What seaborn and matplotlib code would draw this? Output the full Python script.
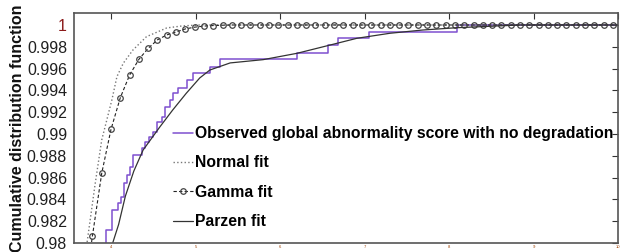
import matplotlib
matplotlib.use('Agg')
import matplotlib.pyplot as plt
import numpy as np
import pandas as pd
import seaborn as sns

# observed empirical CDF (step positions and levels after each step)
obs_x = [3.90, 3.941, 4.008, 4.079, 4.118, 4.157, 4.186, 4.225, 4.264, 4.363,
         4.402, 4.450, 4.497, 4.541, 4.600, 4.639, 4.698, 4.734, 4.793, 4.896,
         4.970, 5.172, 5.290, 6.198, 6.568, 6.686, 7.053, 8.091, 10.0]
obs_y = [0.9795, 0.98119, 0.98303, 0.98367, 0.98425, 0.98550, 0.98624, 0.98697,
         0.98807, 0.98872, 0.98929, 0.98972, 0.99021, 0.99113, 0.99156, 0.99250,
         0.99312, 0.99376, 0.99422, 0.99495, 0.99562, 0.99617, 0.99685, 0.99746,
         0.99817, 0.99878, 0.99939, 1.0, 1.0]

# normal fit
norm_x = [3.68, 3.716, 3.81, 3.89, 3.95, 4.01, 4.07, 4.145, 4.26, 4.42, 4.66,
          4.85, 5.05, 5.5, 10.0]
norm_y = [0.9780, 0.9800, 0.9853, 0.98945, 0.99128, 0.99312, 0.99526, 0.99649,
          0.99771, 0.99893, 0.99973, 0.99992, 1.0, 1.0, 1.0]

# gamma fit (marker positions)
gamma_x = [3.67, 3.78, 3.89, 4.00, 4.11, 4.22, 4.33, 4.44, 4.55, 4.66,
           4.77, 4.88, 4.99, 5.10, 5.21, 5.32, 5.43, 5.54, 5.65, 5.76,
           5.87, 5.98, 6.09, 6.20, 6.31, 6.42, 6.53, 6.64, 6.75, 6.86,
           6.97, 7.08, 7.19, 7.30, 7.41, 7.52, 7.63, 7.74, 7.85, 7.96,
           8.07, 8.18, 8.29, 8.40, 8.51, 8.62, 8.73, 8.84, 8.95, 9.06,
           9.17, 9.28, 9.39, 9.50, 9.61, 9.72, 9.83, 9.94, 10.05]
gamma_y = [0.9745, 0.98064, 0.98639, 0.99043, 0.99333, 0.99541, 0.99685,
           0.99786, 0.99864, 0.99909, 0.99936, 0.99964, 0.9998, 0.9999,
           0.99995, 0.99998] + [1.0] * 43

# parzen fit
parzen_x = [4.00, 4.02, 4.09, 4.17, 4.27, 4.38, 4.58, 4.73, 4.89, 5.05, 5.17,
            5.41, 5.80, 6.20, 6.51, 6.91, 7.30, 7.69, 8.09, 8.84, 10.0]
parzen_y = [0.9793, 0.9800, 0.9817, 0.9843, 0.9866, 0.98853, 0.99067, 0.9922,
            0.99373, 0.99514, 0.99587, 0.99652, 0.99682, 0.9974, 0.998, 0.99878,
            0.99924, 0.99954, 0.99975, 1.0, 1.0]

x_ticks = [4, 5, 6, 7, 8, 9, 10]
y_ticks = [0.98, 0.982, 0.984, 0.986, 0.988, 0.99, 0.992, 0.994, 0.996, 0.998, 1.0]
y_labels = ['0.98', '0.982', '0.984', '0.986', '0.988', '0.99', '0.992',
            '0.994', '0.996', '0.998', '1']

sns.set_style('white')
plt.rcParams['font.family'] = ['Liberation Sans', 'DejaVu Sans']

fig = plt.figure(figsize=(6.21, 2.52), dpi=100)
ax = fig.add_axes([74/621, 9/252, 544/621, 230/252])

sns.lineplot(x=obs_x, y=obs_y, drawstyle='steps-post', color='#7f50d0', lw=1.1,
             ax=ax, label='Observed global abnormality score with no degradation')
sns.lineplot(x=norm_x, y=norm_y, color='#777777', lw=1.0, linestyle=':',
             ax=ax, label='Normal fit')
sns.lineplot(x=gamma_x, y=gamma_y, color='#222222', lw=0.8, linestyle=(0, (3, 2)),
             marker='o', markersize=4, markerfacecolor='none',
             markeredgecolor='#444444', markeredgewidth=0.9,
             ax=ax, label='Gamma fit')
sns.lineplot(x=parzen_x, y=parzen_y, color='#333333', lw=0.9,
             ax=ax, label='Parzen fit')

ax.set_xlim(3.562, 10.0)
ax.set_ylim(0.98, 1.0011)
ax.set_xticks(x_ticks)
ax.set_xticklabels([str(t) for t in x_ticks], fontsize=3, color='#a04000')
ax.set_yticks(y_ticks)
ax.set_yticklabels(y_labels, fontsize=11.5, color='#202020')
ax.get_yticklabels()[-1].set_color('#8b1a1a')
ax.tick_params(direction='in', length=4, width=0.8, top=True, right=True,
               color='#333333')
ax.tick_params(axis='x', pad=1.5)
ax.tick_params(axis='y', pad=5)
for s in ax.spines.values():
    s.set_color('#555555')
    s.set_linewidth(1.2)

ax.set_xlabel('')
ax.set_ylabel('Cumulative distribution function', fontsize=11.5,
              fontweight='bold', color='#111111')
ax.yaxis.set_label_coords(-0.09, 0.5)

leg = ax.legend(loc='upper left', bbox_to_anchor=(173/621, 1 - 126/252),
                bbox_transform=fig.transFigure, frameon=False, numpoints=1,
                borderpad=0, borderaxespad=0, handlelength=1.25,
                handletextpad=0.15, labelspacing=0.92,
                prop={'size': 11.3, 'weight': 'bold'})
for t in leg.get_texts():
    t.set_color('#000000')

fig.savefig('out.png', dpi=100)
